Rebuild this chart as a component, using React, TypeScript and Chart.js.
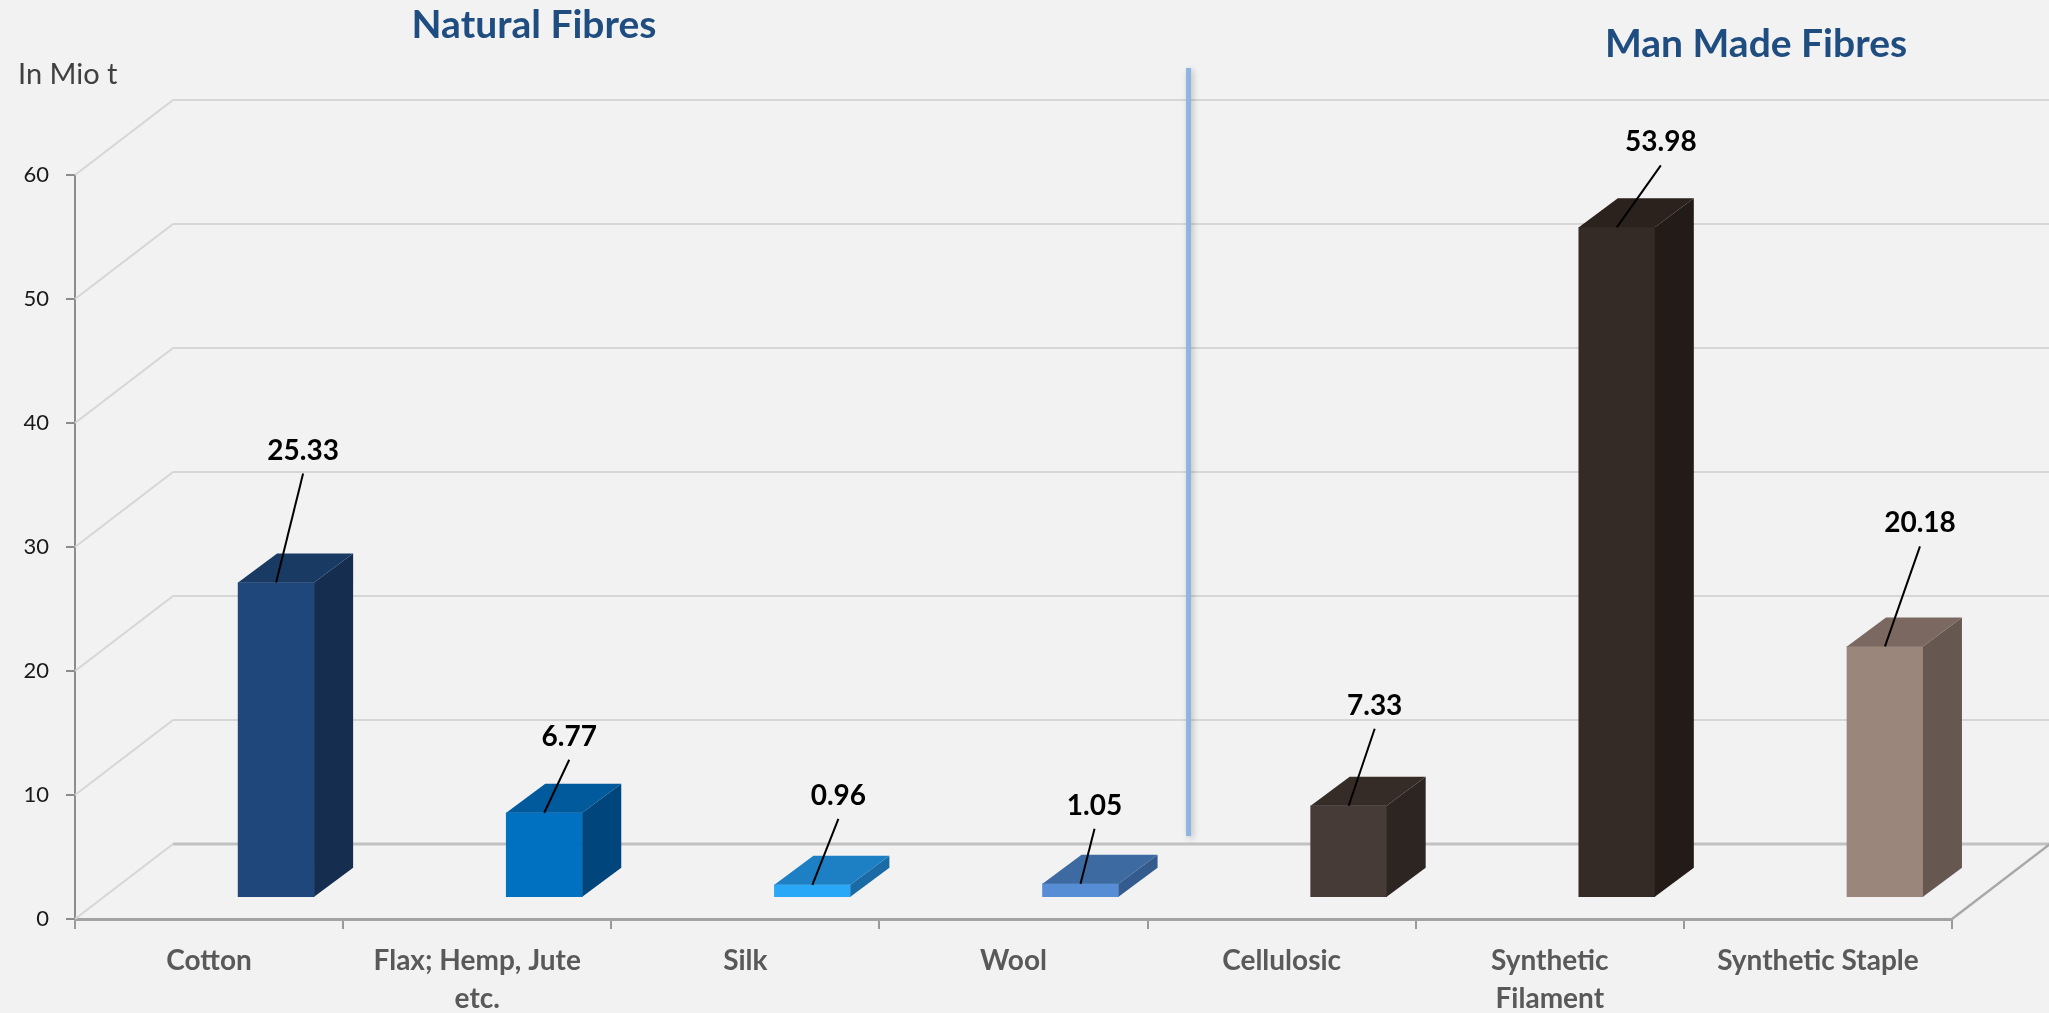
import React, { useEffect, useRef } from "react";
import { Chart, registerables } from "chart.js";

Chart.register(...registerables);

// ---------- data ----------
const categories: (string | string[])[] = [
  "Cotton",
  ["Flax; Hemp, Jute", "etc."],
  "Silk",
  "Wool",
  "Cellulosic",
  ["Synthetic", "Filament"],
  "Synthetic Staple",
];
const values = [25.33, 6.77, 0.96, 1.05, 7.33, 53.98, 20.18];
const valueLabels = ["25.33", "6.77", "0.96", "1.05", "7.33", "53.98", "20.18"];
const yTicks = [0, 10, 20, 30, 40, 50, 60];
const groupTitles = ["Natural Fibres", "Man Made Fibres"];
const unitLabel = "In Mio t";

// ---------- styles ----------
const frontColors = ["#1f477c", "#0070c0", "#29a8f8", "#568dd5", "#463b36", "#342a26", "#9b867b"];
const topColors = ["#183a63", "#005a9c", "#1e80c4", "#3d6aa0", "#352b27", "#2b221e", "#7b6961"];
const sideColors = ["#152d4f", "#00467c", "#1a6aa6", "#335b8e", "#2d2522", "#221b18", "#665750"];
// label offsets (px) relative to the top centre of each bar's front face
const labelOffsets: [number, number][] = [
  [27, -132], [25, -76], [26, -89], [14, -78], [26, -100], [44, -85], [35, -123],
];

const W = 2049;
const H = 1013;
const BG = "#f2f2f2";
const BACK_DX = 98;
const BACK_DY = 75;
const BAR_DX = 39;
const BAR_DY = 29;
const FONT = "Lato, 'Open Sans', sans-serif";

const fibrePlugin = {
  id: "fibre3d",
  beforeDraw(chart: any) {
    const ctx = chart.ctx;
    ctx.save();
    ctx.fillStyle = BG;
    ctx.fillRect(0, 0, chart.width, chart.height);
    ctx.restore();
  },
  beforeDatasetsDraw(chart: any) {
    const { ctx, chartArea: a } = chart;
    const y = chart.scales.y;
    ctx.save();
    ctx.lineCap = "butt";
    yTicks.forEach((v) => {
      const yp = y.getPixelForValue(v);
      ctx.strokeStyle = "#d6d6d6";
      ctx.lineWidth = 2;
      ctx.beginPath();
      ctx.moveTo(a.left, yp);
      ctx.lineTo(a.left + BACK_DX, yp - BACK_DY);
      ctx.stroke();
      ctx.strokeStyle = v === 0 ? "#c2c2c2" : "#d6d6d6";
      ctx.lineWidth = v === 0 ? 3 : 2;
      ctx.beginPath();
      ctx.moveTo(a.left + BACK_DX, yp - BACK_DY);
      ctx.lineTo(chart.width, yp - BACK_DY);
      ctx.stroke();
    });
    const y0 = y.getPixelForValue(0);
    ctx.strokeStyle = "#a8a8a8";
    ctx.lineWidth = 2.5;
    ctx.beginPath();
    ctx.moveTo(a.right, y0);
    ctx.lineTo(a.right + BACK_DX, y0 - BACK_DY);
    ctx.stroke();
    ctx.restore();
  },
  afterDatasetsDraw(chart: any) {
    const { ctx, chartArea: a } = chart;
    const meta = chart.getDatasetMeta(0);
    ctx.save();
    meta.data.forEach((bar: any, i: number) => {
      const { x, y, base, width } = bar.getProps(["x", "y", "base", "width"], true);
      const l = x - width / 2;
      const r = x + width / 2;
      // side face
      ctx.fillStyle = sideColors[i];
      ctx.beginPath();
      ctx.moveTo(r, y);
      ctx.lineTo(r + BAR_DX, y - BAR_DY);
      ctx.lineTo(r + BAR_DX, base - BAR_DY);
      ctx.lineTo(r, base);
      ctx.closePath();
      ctx.fill();
      // top face
      ctx.fillStyle = topColors[i];
      ctx.beginPath();
      ctx.moveTo(l, y);
      ctx.lineTo(l + BAR_DX, y - BAR_DY);
      ctx.lineTo(r + BAR_DX, y - BAR_DY);
      ctx.lineTo(r, y);
      ctx.closePath();
      ctx.fill();
    });

    // separator between natural and man made fibres
    const xs = chart.scales.x.getPixelForValue(3.5) + 41;
    ctx.save();
    ctx.shadowColor = "rgba(0,0,0,0.22)";
    ctx.shadowBlur = 6;
    ctx.shadowOffsetX = 2;
    ctx.shadowOffsetY = 2;
    ctx.strokeStyle = "#8db4e3";
    ctx.lineWidth = 5;
    ctx.beginPath();
    ctx.moveTo(xs, a.top - 107);
    ctx.lineTo(xs, a.bottom - 83);
    ctx.stroke();
    ctx.restore();

    // value labels with leader lines
    ctx.font = `bold 28px ${FONT}`;
    ctx.textAlign = "center";
    ctx.textBaseline = "middle";
    meta.data.forEach((bar: any, i: number) => {
      const { x, y } = bar.getProps(["x", "y"], true);
      const [dx, dy] = labelOffsets[i];
      const lx = x + dx;
      const ly = y + dy;
      ctx.fillStyle = "#000000";
      ctx.fillText(valueLabels[i], lx, ly);
      ctx.strokeStyle = "#000000";
      ctx.lineWidth = 2;
      ctx.beginPath();
      ctx.moveTo(lx, ly + 23);
      ctx.lineTo(x, y);
      ctx.stroke();
    });
    ctx.restore();
  },
  afterDraw(chart: any) {
    const ctx = chart.ctx;
    ctx.save();
    ctx.textBaseline = "alphabetic";
    ctx.textAlign = "center";
    ctx.fillStyle = "#1f4d80";
    ctx.font = `bold 39px ${FONT}`;
    ctx.fillText(groupTitles[0], 534, 38);
    ctx.fillText(groupTitles[1], 1756, 57);
    ctx.textAlign = "left";
    ctx.fillStyle = "#404040";
    ctx.font = `29px ${FONT}`;
    ctx.fillText(unitLabel, 18, 84);
    ctx.restore();
  },
};

export default function App() {
  const ref = useRef<HTMLCanvasElement | null>(null);

  useEffect(() => {
    document.body.style.margin = "0";
    document.body.style.background = BG;
    const canvas = ref.current;
    if (!canvas) return;
    const chart = new Chart(canvas, {
      type: "bar",
      data: {
        labels: categories as any,
        datasets: [
          {
            data: values.map((v, i) => ({ x: i, y: v })) as any,
            xAxisID: "xb",
            yAxisID: "yb",
            backgroundColor: frontColors,
            borderWidth: 0,
            barThickness: 76,
          },
        ],
      },
      options: {
        animation: false,
        responsive: false,
        maintainAspectRatio: false,
        layout: { padding: { top: 175, right: 97, left: 0, bottom: 0 } },
        plugins: {
          legend: { display: false },
          tooltip: { enabled: false },
          title: { display: false },
        },
        scales: {
          x: {
            type: "category",
            position: "bottom",
            offset: true,
            afterFit: (s: any) => {
              s.height = 94;
            },
            grid: {
              display: true,
              offset: true,
              drawOnChartArea: false,
              drawTicks: true,
              tickLength: 10,
              color: "#9a9a9a",
              lineWidth: 2,
            },
            border: { display: true, color: "#a3a3a3", width: 3 },
            ticks: {
              autoSkip: false,
              maxRotation: 0,
              minRotation: 0,
              padding: 13,
              color: "#595959",
              font: { family: FONT, size: 28, weight: "bold", lineHeight: 1.36 },
            },
          },
          y: {
            type: "linear",
            position: "left",
            min: 0,
            max: 60,
            afterFit: (s: any) => {
              s.width = 75;
            },
            ticks: {
              stepSize: 10,
              padding: 17,
              color: "#1a1a1a",
              font: { family: FONT, size: 22 },
            },
            grid: {
              display: true,
              drawOnChartArea: false,
              drawTicks: true,
              tickLength: 9,
              color: "#8c8c8c",
              lineWidth: 2,
            },
            border: { display: true, color: "#8c8c8c", width: 2 },
          },
          xb: {
            type: "linear",
            display: false,
            offset: false,
            bounds: "data",
            min: -0.75,
            max: 6.25,
          },
          yb: {
            type: "linear",
            display: false,
            min: -1.8,
            max: 58.2,
          },
        },
      } as any,
      plugins: [fibrePlugin],
    });
    return () => chart.destroy();
  }, []);

  return (
    <div style={{ position: "absolute", left: 0, top: 0, width: W, height: H, background: BG }}>
      <canvas ref={ref} width={W} height={H} style={{ width: W, height: H, display: "block" }} />
    </div>
  );
}
